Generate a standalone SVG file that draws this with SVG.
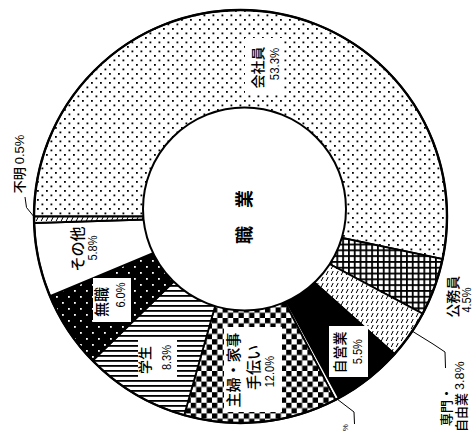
<svg xmlns="http://www.w3.org/2000/svg" width="476" height="433" viewBox="0 0 476 433">
<style>
.sl{stroke:#000;stroke-width:1.8;stroke-linejoin:miter}
.jp{font-family:"Noto Sans CJK JP","Liberation Sans",sans-serif;font-size:14px;font-weight:500;fill:#000}
.num{font-family:"Liberation Sans","Noto Sans CJK JP",sans-serif;font-size:13px;font-weight:400;fill:#000}
.box{fill:#fff;stroke:none}
.ld{fill:none;stroke:#000;stroke-width:1}
</style>
<defs>
<pattern id="pDots" width="9" height="9" patternUnits="userSpaceOnUse"><rect width="9" height="9" fill="#fff"/><rect x="1" y="1" width="1.8" height="1.8" fill="#000"/><rect x="5.5" y="5.5" width="1.8" height="1.8" fill="#000"/></pattern>
<pattern id="pGrid" width="5.8" height="5.8" patternUnits="userSpaceOnUse"><rect width="5.8" height="5.8" fill="#fff"/><rect width="1.8" height="5.8" fill="#000"/><rect width="5.8" height="1.8" fill="#000"/></pattern>
<pattern id="pDash" width="5" height="6" patternUnits="userSpaceOnUse"><rect width="5" height="6" fill="#fff"/><line x1="1.2" y1="5" x2="3.2" y2="1" stroke="#000" stroke-width="1"/></pattern>
<pattern id="pCheck" width="10.6" height="10.6" patternUnits="userSpaceOnUse"><rect width="10.6" height="10.6" fill="#fff"/><rect width="5.3" height="5.3" fill="#000"/><rect x="5.3" y="5.3" width="5.3" height="5.3" fill="#000"/></pattern>
<pattern id="pStripe" width="5" height="5" patternUnits="userSpaceOnUse"><rect width="5" height="5" fill="#fff"/><rect width="5" height="1.8" fill="#000"/></pattern>
<pattern id="pWDots" width="12" height="12" patternUnits="userSpaceOnUse"><rect width="12" height="12" fill="#000"/><rect x="2" y="2" width="1.8" height="1.8" fill="#fff"/><rect x="8" y="8" width="1.8" height="1.8" fill="#fff"/></pattern>
</defs>
<rect width="476" height="433" fill="#fff"/>

<g id="slice-kaishain"><path class="sl" fill="url(#pDots)" d="M240.5,216.5 L34,216.5 A206.5,206.5 0 1 1 442.58,259.01 Z"/></g>
<g id="slice-koumuin"><path class="sl" fill="url(#pGrid)" d="M240.5,216.5 L442.58,259.01 A206.5,206.5 0 0 1 422.69,313.71 Z"/></g>
<g id="slice-senmon"><path class="sl" fill="url(#pDash)" d="M240.5,216.5 L422.69,313.71 A206.5,206.5 0 0 1 394.54,354.03 Z"/></g>
<g id="slice-jieigyou"><path class="sl" fill="#000" d="M240.5,216.5 L394.54,354.03 A206.5,206.5 0 0 1 338.84,398.08 Z"/></g>
<g id="slice-small"><path class="sl" fill="#fff" stroke-width="1" d="M240.5,216.5 L338.84,398.08 A206.5,206.5 0 0 1 335.40,399.90 Z"/></g>
<g id="slice-shufu"><path class="sl" fill="url(#pCheck)" d="M240.5,216.5 L335.40,399.90 A206.5,206.5 0 0 1 184.14,415.16 Z"/></g>
<g id="slice-gakusei"><path class="sl" fill="url(#pStripe)" d="M240.5,216.5 L184.14,415.16 A206.5,206.5 0 0 1 92.66,360.67 Z"/></g>
<g id="slice-mushoku"><path class="sl" fill="url(#pWDots)" d="M240.5,216.5 L92.66,360.67 A206.5,206.5 0 0 1 49.97,296.12 Z"/></g>
<g id="slice-sonota"><path class="sl" fill="#fff" d="M240.5,216.5 L49.97,296.12 A206.5,206.5 0 0 1 34.10,222.99 Z"/></g>
<g id="slice-fumei"><path class="sl" fill="url(#pDash)" d="M240.5,216.5 L34.10,222.99 A206.5,206.5 0 0 1 34,216.5 Z"/></g>

<circle cx="240.5" cy="216.5" r="206.5" fill="none" stroke="#000" stroke-width="2.4"/>
<g id="center"><circle cx="244.5" cy="209" r="101.5" fill="#fff" stroke="#000" stroke-width="2"/>
<text class="jp" style="font-size:18px;font-weight:700" dominant-baseline="central" text-anchor="middle" transform="translate(243,217) rotate(-90)">職　業</text></g>

<g id="label-kaishain"><rect class="box" x="245" y="38" width="37" height="56"/>
<text class="jp" dominant-baseline="central" text-anchor="middle" transform="translate(257,67.5) rotate(-90)">会社員</text>
<text class="num" dominant-baseline="central" text-anchor="middle" transform="translate(274.5,64) rotate(-90) scale(0.88,1)">53.3%</text></g>

<g id="label-fumei"><text class="jp" style="font-size:13px" dominant-baseline="central" text-anchor="middle" transform="translate(18.5,164) rotate(-90)">不明 <tspan class="num">0.5%</tspan></text></g>

<g id="label-sonota"><text class="jp" style="font-size:15px" dominant-baseline="central" text-anchor="middle" transform="translate(76,249) rotate(-90)">その他</text>
<text class="num" dominant-baseline="central" text-anchor="middle" transform="translate(93,248) rotate(-90) scale(0.85,1)">5.8%</text></g>

<g id="label-mushoku"><rect class="box" x="93" y="278" width="38" height="44"/>
<text class="jp" style="font-size:15px" dominant-baseline="central" text-anchor="middle" transform="translate(100.5,302) rotate(-90)">無職</text>
<text class="num" dominant-baseline="central" text-anchor="middle" transform="translate(121,295) rotate(-90) scale(0.85,1)">6.0%</text></g>

<g id="label-gakusei"><rect class="box" x="138" y="340" width="39" height="37"/>
<text class="jp" dominant-baseline="central" text-anchor="middle" transform="translate(144,360) rotate(-90)">学生</text>
<text class="num" dominant-baseline="central" text-anchor="middle" transform="translate(166.5,357.5) rotate(-90) scale(0.85,1)">8.3%</text></g>

<g id="label-shufu"><rect class="box" x="224" y="327" width="58" height="85"/>
<text class="jp" style="font-size:15px" dominant-baseline="central" text-anchor="middle" transform="translate(232.5,370) rotate(-90)">主婦・家事</text>
<text class="jp" style="font-size:15px" dominant-baseline="central" text-anchor="middle" transform="translate(252.5,367.5) rotate(-90)">手伝い</text>
<text class="num" dominant-baseline="central" text-anchor="middle" transform="translate(270,371.7) rotate(-90) scale(0.85,1)">12.0%</text></g>

<g id="label-jieigyou"><rect class="box" x="329" y="326" width="39" height="51"/>
<text class="jp" dominant-baseline="central" text-anchor="middle" transform="translate(339,352.5) rotate(-90)">自営業</text>
<text class="num" dominant-baseline="central" text-anchor="middle" transform="translate(358,351.7) rotate(-90) scale(0.85,1)">5.5%</text></g>

<g id="label-koumuin"><text class="jp" dominant-baseline="central" text-anchor="middle" transform="translate(452,296.7) rotate(-90)">公務員</text>
<text class="num" dominant-baseline="central" text-anchor="middle" transform="translate(466.7,300) rotate(-90) scale(0.85,1)">4.5%</text></g>

<g id="label-senmon"><text class="jp" style="font-size:13px" dominant-baseline="central" text-anchor="start" transform="translate(445.7,426) rotate(-90)">専門・</text>
<text class="jp" style="font-size:13px" dominant-baseline="central" text-anchor="end" transform="translate(460,361.5) rotate(-90)">自由業 <tspan class="num" style="font-size:12.5px">3.8%</tspan></text></g>

<g id="label-small"><text class="num" style="font-size:8px" dominant-baseline="central" text-anchor="end" transform="translate(345.5,424) rotate(-90)">%</text></g>

<g id="connectors">
<polyline class="ld" points="25,197 26.5,207.5 35,218"/>
<polyline class="ld" points="412,331 433,344 445,352 445.5,368"/>
<polyline class="ld" points="337,399 354,412 354.5,424"/>
</g>
</svg>
